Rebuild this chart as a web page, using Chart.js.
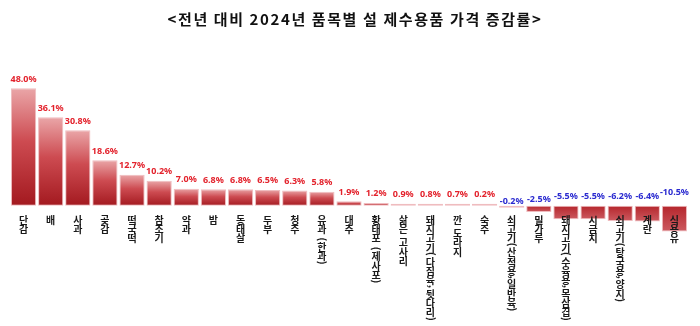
<!DOCTYPE html>
<html lang="ko">
<head>
<meta charset="utf-8">
<title>전년 대비 2024년 품목별 설 제수용품 가격 증감률</title>
<script src="https://cdn.jsdelivr.net/npm/chart.js@4.4.1/dist/chart.umd.min.js"></script>
<style>
  html, body { margin: 0; padding: 0; background: #ffffff; }
  #wrap { width: 700px; height: 326px; }
</style>
</head>
<body>
<div id="wrap"><canvas id="chart" width="700" height="326"></canvas></div>
<script>
// 품목 (vertical labels under the zero line)
const items = [
  '단감', '배', '사과', '곶감', '떡국떡', '참조기', '약과', '밤', '동태살', '두부',
  '청주', '유과 (한과)', '대추', '황태포 (제사포)', '삶은 고사리', '돼지고기(다짐육,뒷다리)',
  '깐 도라지', '숙주', '쇠고기(산적용,일반육)', '밀가루', '돼지고기(수육용,목삼겹)',
  '시금치', '쇠고기(탕국용,양지)', '계란', '식용유'
];

// 전년 대비 증감률 (%)
const changeRates = [
  48.0, 36.1, 30.8, 18.6, 12.7, 10.2, 7.0, 6.8, 6.8, 6.5,
  6.3, 5.8, 1.9, 1.2, 0.9, 0.8,
  0.7, 0.2, -0.2, -2.5, -5.5,
  -5.5, -6.2, -6.4, -10.5
];

const chartTitle = '<전년 대비 2024년 품목별 설 제수용품 가격 증감률>';

// per-bar vertical gradient: light at the top of a rising bar, deep red at the base
function barFill(context) {
  const chart = context.chart;
  const area = chart.chartArea;
  const v = context.raw;
  if (!area || typeof v !== 'number') return '#c0343a';
  const y = chart.scales.y;
  const zero = y.getPixelForValue(0);
  let end = y.getPixelForValue(v);
  if (Math.abs(end - zero) < 2) end = zero + (v >= 0 ? -2 : 2);
  const ctx = chart.ctx;
  if (v >= 0) {
    const g = ctx.createLinearGradient(0, end, 0, zero);
    g.addColorStop(0, '#eaa6a8');
    g.addColorStop(0.45, '#cd4b51');
    g.addColorStop(1, '#a3191f');
    return g;
  }
  const g = ctx.createLinearGradient(0, zero, 0, end);
  g.addColorStop(0, '#b5262c');
  g.addColorStop(1, '#cc5a60');
  return g;
}

// heading drawn centred over the plot, slightly tracked out
const headline = {
  id: 'headline',
  afterDraw(chart) {
    const ctx = chart.ctx;
    ctx.save();
    ctx.font = 'bold 15px "Noto Sans CJK KR", sans-serif';
    ctx.fillStyle = '#111111';
    ctx.textAlign = 'center';
    ctx.textBaseline = 'middle';
    if ('letterSpacing' in ctx) ctx.letterSpacing = '1.6px';
    ctx.fillText(chartTitle, chart.width / 2 + 5, 19);
    ctx.restore();
  }
};

// percentage labels: red above rising bars, blue above the zero line for falling ones
const valueLabels = {
  id: 'valueLabels',
  afterDatasetsDraw(chart) {
    const ctx = chart.ctx;
    const meta = chart.getDatasetMeta(0);
    const zero = chart.scales.y.getPixelForValue(0);
    ctx.save();
    ctx.font = 'bold 9px "Noto Sans", sans-serif';
    ctx.textAlign = 'center';
    ctx.textBaseline = 'middle';
    meta.data.forEach((bar, i) => {
      const v = changeRates[i];
      const txt = v.toFixed(1) + '%';
      if (v >= 0) {
        ctx.fillStyle = '#e3222c';
        ctx.fillText(txt, bar.x, Math.min(bar.y, bar.base) - 9);
      } else {
        ctx.fillStyle = '#2b2bd0';
        ctx.fillText(txt, bar.x, zero - 4 - Math.abs(v) * 0.9);
      }
    });
    ctx.restore();
  }
};

// item names written top-to-bottom, one glyph per step; brackets and commas turned sideways
const verticalItemLabels = {
  id: 'verticalItemLabels',
  afterDatasetsDraw(chart) {
    const ctx = chart.ctx;
    const xs = chart.scales.x;
    const zero = chart.scales.y.getPixelForValue(0);
    const size = 10;
    ctx.save();
    ctx.font = 'bold ' + size + 'px "Noto Sans CJK KR", sans-serif';
    ctx.fillStyle = '#1a1a1a';
    ctx.textAlign = 'center';
    ctx.textBaseline = 'middle';
    items.forEach((name, i) => {
      const x = xs.getPixelForValue(i);
      let y = zero + 9;
      for (const ch of name) {
        if (ch === ' ') { y += size * 0.4; continue; }
        if (ch === '(' || ch === ')' || ch === ',') {
          const w = ctx.measureText(ch).width;
          ctx.save();
          ctx.translate(ch === ',' ? x + 2 : x, y + w / 2);
          ctx.rotate(Math.PI / 2);
          ctx.fillText(ch, 0, 0);
          ctx.restore();
          y += w + 1;
        } else {
          ctx.fillText(ch, x, y + size * 0.5);
          y += size * 0.93;
        }
      }
    });
    ctx.restore();
  }
};

new Chart(document.getElementById('chart'), {
  type: 'bar',
  data: {
    labels: items,
    datasets: [{
      data: changeRates,
      backgroundColor: barFill,
      borderColor: '#efbcbf',
      borderWidth: 1,
      borderSkipped: false,
      minBarLength: 2,
      barPercentage: 0.93,
      categoryPercentage: 1
    }]
  },
  options: {
    responsive: false,
    animation: false,
    devicePixelRatio: 1,
    layout: { padding: { left: 10, right: 12, top: 71, bottom: 0 } },
    plugins: {
      legend: { display: false },
      tooltip: { enabled: false },
      title: { display: false }
    },
    scales: {
      x: { display: false },
      y: { display: false, min: -49, max: 55 }
    }
  },
  plugins: [headline, valueLabels, verticalItemLabels]
});
</script>
</body>
</html>
